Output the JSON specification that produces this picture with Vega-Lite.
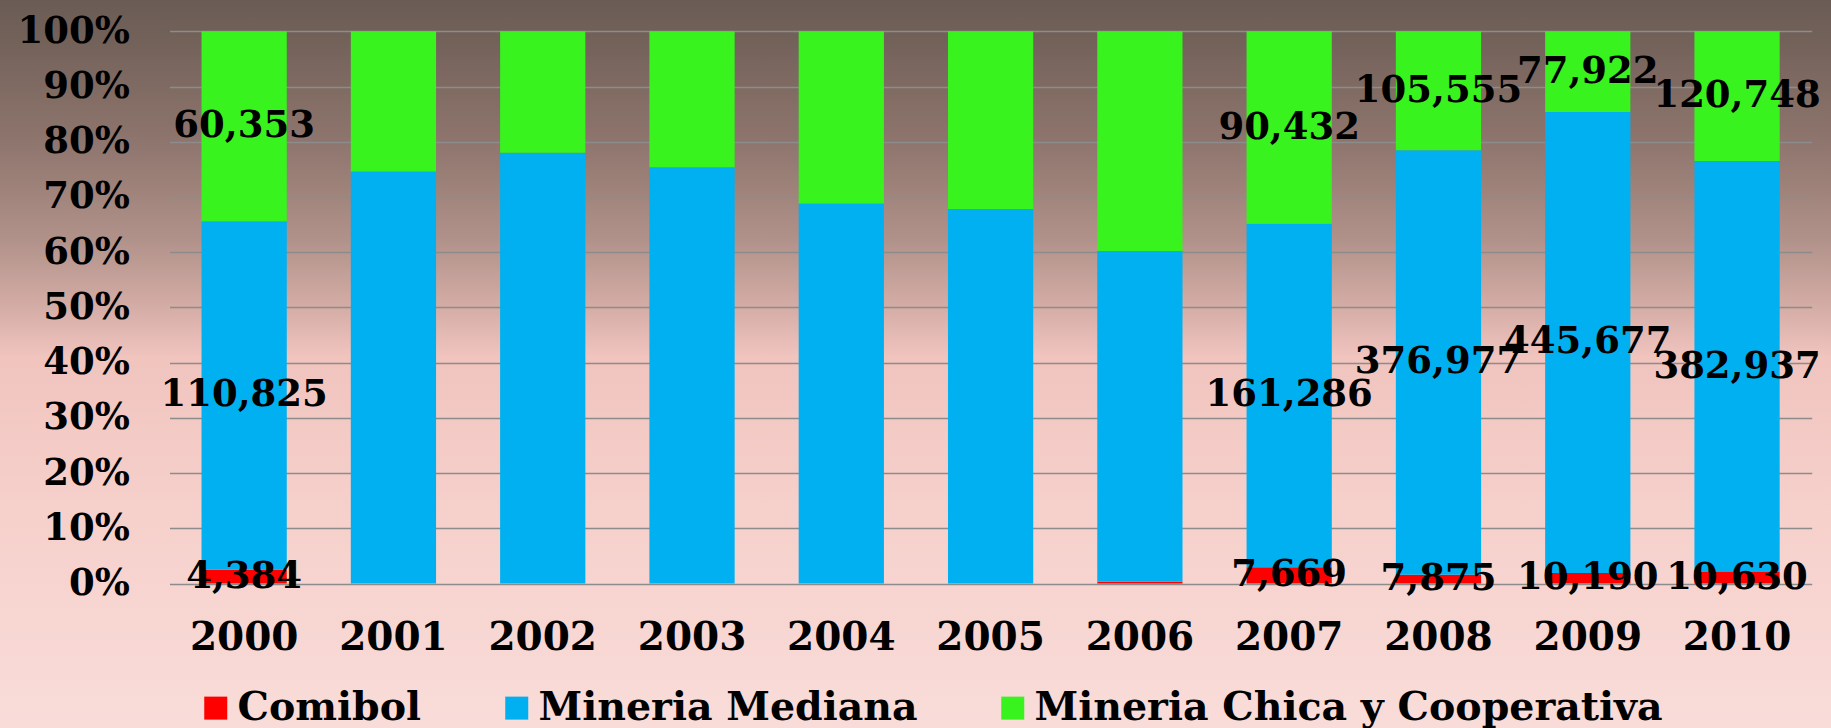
{
  "$schema": "https://vega.github.io/schema/vega-lite/v6.json",
  "width": 1831,
  "height": 728,
  "autosize": {"type": "none"},
  "padding": 0,
  "background": "#f9dcd8",
  "view": {
    "stroke": null,
    "fill": {
      "gradient": "linear", "x1": 0, "y1": 0, "x2": 0, "y2": 1,
      "stops": [
        {"offset": 0, "color": "#6a5c55"},
        {"offset": 0.05, "color": "#726159"},
        {"offset": 0.2, "color": "#8f766e"},
        {"offset": 0.33, "color": "#b1928a"},
        {"offset": 0.42, "color": "#d3aca5"},
        {"offset": 0.49, "color": "#f1c4be"},
        {"offset": 0.7, "color": "#f6d0cb"},
        {"offset": 1, "color": "#f9dcd9"}
      ]
    }
  },
  "config": {"font": "DejaVu Serif"},
  "data": {
    "values": [
      {"year": "2000", "serie": "Comibol", "k": 1, "value": 4384},
      {"year": "2000", "serie": "Mineria Mediana", "k": 2, "value": 110825},
      {"year": "2000", "serie": "Mineria Chica y Cooperativa", "k": 3, "value": 60353},
      {"year": "2001", "serie": "Comibol", "k": 1, "value": 0},
      {"year": "2001", "serie": "Mineria Mediana", "k": 2, "value": 74.6},
      {"year": "2001", "serie": "Mineria Chica y Cooperativa", "k": 3, "value": 25.4},
      {"year": "2002", "serie": "Comibol", "k": 1, "value": 0},
      {"year": "2002", "serie": "Mineria Mediana", "k": 2, "value": 78.0},
      {"year": "2002", "serie": "Mineria Chica y Cooperativa", "k": 3, "value": 22.0},
      {"year": "2003", "serie": "Comibol", "k": 1, "value": 0},
      {"year": "2003", "serie": "Mineria Mediana", "k": 2, "value": 75.4},
      {"year": "2003", "serie": "Mineria Chica y Cooperativa", "k": 3, "value": 24.6},
      {"year": "2004", "serie": "Comibol", "k": 1, "value": 0},
      {"year": "2004", "serie": "Mineria Mediana", "k": 2, "value": 68.8},
      {"year": "2004", "serie": "Mineria Chica y Cooperativa", "k": 3, "value": 31.2},
      {"year": "2005", "serie": "Comibol", "k": 1, "value": 0},
      {"year": "2005", "serie": "Mineria Mediana", "k": 2, "value": 67.8},
      {"year": "2005", "serie": "Mineria Chica y Cooperativa", "k": 3, "value": 32.2},
      {"year": "2006", "serie": "Comibol", "k": 1, "value": 0.3},
      {"year": "2006", "serie": "Mineria Mediana", "k": 2, "value": 59.9},
      {"year": "2006", "serie": "Mineria Chica y Cooperativa", "k": 3, "value": 39.8},
      {"year": "2007", "serie": "Comibol", "k": 1, "value": 7669},
      {"year": "2007", "serie": "Mineria Mediana", "k": 2, "value": 161286},
      {"year": "2007", "serie": "Mineria Chica y Cooperativa", "k": 3, "value": 90432},
      {"year": "2008", "serie": "Comibol", "k": 1, "value": 7875},
      {"year": "2008", "serie": "Mineria Mediana", "k": 2, "value": 376977},
      {"year": "2008", "serie": "Mineria Chica y Cooperativa", "k": 3, "value": 105555},
      {"year": "2009", "serie": "Comibol", "k": 1, "value": 10190},
      {"year": "2009", "serie": "Mineria Mediana", "k": 2, "value": 445677},
      {"year": "2009", "serie": "Mineria Chica y Cooperativa", "k": 3, "value": 77922},
      {"year": "2010", "serie": "Comibol", "k": 1, "value": 10630},
      {"year": "2010", "serie": "Mineria Mediana", "k": 2, "value": 382937},
      {"year": "2010", "serie": "Mineria Chica y Cooperativa", "k": 3, "value": 120748}
    ]
  },
  "transform": [
    {"stack": "value", "groupby": ["year"], "sort": [{"field": "k", "order": "ascending"}], "offset": "normalize", "as": ["y0", "y1"]},
    {"calculate": "(datum.y0 + datum.y1) / 2", "as": "mid"}
  ],
  "encoding": {
    "x": {
      "field": "year", "type": "nominal",
      "scale": {"range": [169.5, 1811.7], "paddingInner": 0.429, "paddingOuter": 0.2145},
      "axis": {
        "orient": "bottom", "offset": -90.5, "title": null, "domain": false, "ticks": false, "tickSize": 0,
        "labelPadding": 0, "labelBaseline": "middle", "labelAngle": 0, "grid": false,
        "labelFont": "DejaVu Serif", "labelFontWeight": "bold", "labelFontSize": 39, "labelColor": "#000000"
      }
    }
  },
  "layer": [
    {
      "mark": {"type": "bar"},
      "encoding": {
        "y": {
          "field": "y0", "type": "quantitative",
          "scale": {"domain": [0, 1], "range": [583.5, 31.3], "nice": false, "zero": false},
          "axis": {
            "orient": "left", "offset": -129.5, "title": null, "domain": false, "ticks": false, "tickSize": 0,
            "labelPadding": 0, "values": [0, 0.1, 0.2, 0.3, 0.4, 0.5, 0.6, 0.7, 0.8, 0.9, 1], "format": ".0%",
            "grid": true, "gridColor": "#8c8c8c", "gridWidth": 1.3,
            "labelFont": "DejaVu Serif", "labelFontWeight": "bold", "labelFontSize": 37, "labelColor": "#000000"
          }
        },
        "y2": {"field": "y1"},
        "color": {
          "field": "serie", "type": "nominal",
          "scale": {
            "domain": ["Comibol", "Mineria Mediana", "Mineria Chica y Cooperativa"],
            "range": ["#ff0000", "#00b0f0", "#38f31e"]
          },
          "legend": {
            "orient": "none", "legendX": 196, "legendY": 688, "direction": "horizontal", "title": null,
            "symbolType": "square", "symbolSize": 529, "symbolStrokeWidth": 0, "symbolOpacity": 1,
            "labelFont": "DejaVu Serif", "labelFontWeight": "bold", "labelFontSize": 39.5, "labelColor": "#000000",
            "labelOffset": 2, "columnPadding": 75, "labelLimit": 2000, "padding": 0
          }
        }
      }
    },
    {
      "transform": [{"filter": {"field": "year", "oneOf": ["2000", "2007", "2008", "2009", "2010"]}}],
      "mark": {"type": "text", "font": "DejaVu Serif", "fontWeight": "bold", "fontSize": 37, "color": "#000000", "align": "center", "baseline": "middle"},
      "encoding": {
        "y": {"field": "mid", "type": "quantitative"},
        "text": {"field": "value", "type": "quantitative", "format": ","}
      }
    }
  ]
}
